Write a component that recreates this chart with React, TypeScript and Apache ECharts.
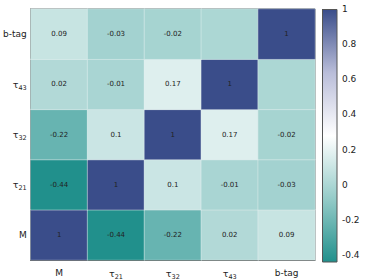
import React, { useEffect, useRef } from "react";
import * as echarts from "echarts";

const labels = ["M", "τ21", "τ32", "τ43", "b-tag"];
// rows bottom to top (y = M ... b-tag), columns left to right (x = M ... b-tag)
const rowM = [1, -0.44, -0.22, 0.02, 0.09];
const rowT21 = [-0.44, 1, 0.1, -0.01, -0.03];
const rowT32 = [-0.22, 0.1, 1, 0.17, -0.02];
const rowT43 = [0.02, -0.01, 0.17, 1, 0];
const rowBtag = [0.09, -0.03, -0.02, 0, 1];
const matrix = [rowM, rowT21, rowT32, rowT43, rowBtag];
const colorbarTicks = [-0.4, -0.2, 0, 0.2, 0.4, 0.6, 0.8, 1];
const vMin = -0.44;
const vMax = 1;
const palette = ["#21908c", "#94cbc8", "#ffffff", "#b9bdd9", "#3a4d8a"];

function fmtLabel(s: string) {
  const m = s.match(/^τ(\d+)$/);
  if (m) return "{t|τ}{s|" + m[1] + "}";
  return "{n|" + s + "}";
}

export default function App() {
  const ref = useRef<HTMLDivElement>(null);
  useEffect(() => {
    document.body.style.margin = "0";
    const chart = echarts.init(ref.current!, null, { renderer: "svg" });
    const data: any[] = [];
    matrix.forEach((row, yi) =>
      row.forEach((v, xi) => data.push([xi, yi, v]))
    );
    const font = "DejaVu Sans";
    const rich = {
      n: { fontSize: 9, fontFamily: font, color: "#222", lineHeight: 14 },
      t: { fontSize: 9.5, fontFamily: font, color: "#222", lineHeight: 14, verticalAlign: "middle" },
      s: { fontSize: 6.5, fontFamily: font, color: "#222", lineHeight: 14, verticalAlign: "bottom", padding: [5, 0, 0, 0] },
    };
    const stops = palette
      .slice()
      .reverse()
      .map((c, i) => ({ offset: i / (palette.length - 1), color: c }));
    chart.setOption({
      animation: false,
      backgroundColor: "#fff",
      textStyle: { fontFamily: font },
      grid: [
        { left: 30, top: 9, width: 285, height: 253, show: true, borderColor: "#333", borderWidth: 1 },
        { left: 322, top: 9, width: 15, height: 253 },
      ],
      xAxis: [
        {
          type: "category",
          data: labels,
          gridIndex: 0,
          axisLine: { show: true, lineStyle: { color: "#222" } },
          axisTick: { show: false },
          splitLine: { show: false },
          axisLabel: { interval: 0, margin: 6, formatter: (v: string) => fmtLabel(v), rich },
        },
        { type: "value", gridIndex: 1, show: false, min: 0, max: 1 },
      ],
      yAxis: [
        {
          type: "category",
          data: labels,
          gridIndex: 0,
          axisLine: { show: true, lineStyle: { color: "#222" } },
          axisTick: { show: false },
          splitLine: { show: false },
          axisLabel: { interval: 0, margin: 4, formatter: (v: string) => fmtLabel(v), rich },
        },
        {
          type: "value",
          gridIndex: 1,
          position: "right",
          min: vMin,
          max: vMax,
          axisLine: { show: false },
          splitLine: { show: false },
          axisTick: { show: true, customValues: colorbarTicks, length: 2, lineStyle: { color: "#444" } },
          axisLabel: {
            customValues: colorbarTicks,
            margin: 5,
            fontSize: 9,
            fontFamily: font,
            color: "#222",
            formatter: (v: number) => String(+v.toFixed(1)),
          },
        },
      ],
      visualMap: {
        show: false,
        min: vMin,
        max: vMax,
        seriesIndex: 0,
        dimension: 2,
        inRange: { color: palette },
      },
      series: [
        {
          type: "heatmap",
          xAxisIndex: 0,
          yAxisIndex: 0,
          data,
          itemStyle: { borderColor: "rgba(230,240,240,0.8)", borderWidth: 0.6 },
          label: {
            show: true,
            fontSize: 7,
            fontFamily: font,
            color: "#222",
            formatter: (p: any) => {
              const v = p.value[2];
              return Math.abs(v) < 0.005 ? "" : String(+v.toFixed(2));
            },
          },
          emphasis: { disabled: true },
        },
      ],
      graphic: [
        {
          type: "rect",
          shape: { x: 322.5, y: 9.5, width: 14.5, height: 252.5 },
          style: {
            fill: new echarts.graphic.LinearGradient(0, 0, 0, 1, stops),
            stroke: "#555",
            lineWidth: 1,
          },
          z: 10,
        },
      ],
    });
    return () => chart.dispose();
  }, []);
  return <div ref={ref} style={{ width: 374, height: 280 }} />;
}
